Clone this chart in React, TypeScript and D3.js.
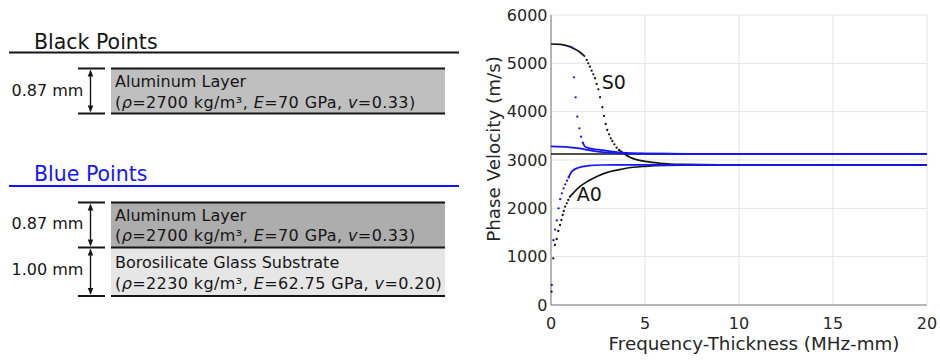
import React from "react";
import * as d3 from "d3";

// ---------- DATA ----------
// x: frequency-thickness (MHz-mm), y: phase velocity (m/s)
const xTicks = [0, 5, 10, 15, 20];
const yTicks = [0, 1000, 2000, 3000, 4000, 5000, 6000];

// Black points (aluminum plate, 0.87 mm)
const blackS0Line: [number, number][] = [
  [0, 5400], [0.5, 5394], [1.0, 5345], [1.13, 5324], [1.54, 5229], [1.81, 5138],
];
const blackS0Dots: [number, number][] = [
  [1.9, 5069], [1.98, 5001], [2.07, 4931], [2.16, 4848], [2.25, 4773], [2.34, 4691],
  [2.43, 4573], [2.52, 4463], [2.61, 4298], [2.73, 4091], [2.82, 3911], [2.91, 3745],
  [2.99, 3621], [3.09, 3532], [3.18, 3449], [3.26, 3393], [3.37, 3325], [3.49, 3255],
  [3.62, 3207],
];
const blackS0Tail: [number, number][] = [
  [3.62, 3207], [4.2, 3056], [5.09, 2965], [5.8, 2932], [7, 2910], [9, 2902], [20, 2900],
];
const blackSH0Line: [number, number][] = [[0, 3124], [20, 3124]];
const blackA0Dots: [number, number][] = [
  [0.03, 276], [0.12, 966], [0.21, 1241], [0.3, 1366], [0.39, 1531], [0.48, 1655],
  [0.55, 1759], [0.62, 1862], [0.68, 1945], [0.75, 2034], [0.84, 2104], [0.92, 2173],
  [1.01, 2241],
];
const blackA0Line: [number, number][] = [
  [1.01, 2241], [1.5, 2440], [2.0, 2570], [2.5, 2670], [3.0, 2745], [3.5, 2790],
  [4, 2830], [5, 2870], [6, 2890], [8, 2900], [20, 2900],
];

// Blue points (aluminum layer on borosilicate glass)
const blueA0Dots: [number, number][] = [
  [0.04, 414], [0.13, 1340], [0.22, 1560], [0.31, 1750], [0.4, 2000], [0.49, 2190],
  [0.58, 2310], [0.67, 2414], [0.76, 2497], [0.85, 2572], [0.94, 2640],
];
const blueA0Line: [number, number][] = [
  [0.94, 2640], [1.1, 2760], [1.45, 2840], [2.0, 2882], [2.7, 2897], [4, 2900], [20, 2900],
];
const blueUpperLine: [number, number][] = [
  [0, 3280], [1, 3262], [1.5, 3240], [2, 3205], [2.5, 3175], [3, 3155], [3.5, 3143],
  [4, 3137], [5, 3130], [8, 3126], [20, 3125],
];
const blueSteepDots: [number, number][] = [
  [1.13, 5324], [1.22, 4711], [1.31, 4297], [1.4, 3896], [1.51, 3656], [1.6, 3483],
  [1.69, 3358],
];
const blueSteepLine: [number, number][] = [
  [1.69, 3358], [1.81, 3275], [2.0, 3245], [2.5, 3215], [3, 3190], [3.5, 3165],
  [4, 3148], [5, 3135], [6, 3130], [8, 3127], [20, 3126],
];

const blackLines = [blackS0Line, blackS0Tail, blackSH0Line, blackA0Line];
const blackDots = [...blackS0Dots, ...blackA0Dots];
const blueLines = [blueUpperLine, blueSteepLine, blueA0Line];
const blueDots = [...blueSteepDots, ...blueA0Dots];

const modeLabels = [
  { text: "S0", fd: 2.7, v: 4469 },
  { text: "A0", fd: 1.37, v: 2145 },
];

const BLUE = "#1414ff";
const INK = "#151515";
const FONT = "DejaVu Sans, Verdana, sans-serif";

export default function App() {
  const x = d3.scaleLinear().domain([0, 20]).range([551, 927]);
  const y = d3.scaleLinear().domain([0, 6000]).range([305, 15]);
  const line = d3
    .line<[number, number]>()
    .x((d) => x(d[0]))
    .y((d) => y(d[1]))
    .curve(d3.curveMonotoneX);

  const matLine = (rho: string, E: string, nu: string) => (
    <>
      (<tspan fontStyle="italic">ρ</tspan>={rho} kg/m³, <tspan fontStyle="italic">E</tspan>={E} GPa,{" "}
      <tspan fontStyle="italic">v</tspan>={nu})
    </>
  );

  const dimBar = (yy: number, key: string) => (
    <line key={key} x1={78} x2={105} y1={yy} y2={yy} stroke={INK} strokeWidth={2} />
  );
  const dimArrow = (y1: number, y2: number, key: string) => (
    <g key={key}>
      <line x1={90.5} x2={90.5} y1={y1 + 2} y2={y2 - 2} stroke={INK} strokeWidth={1.4} />
      <path d={`M${90.5 - 2.8},${y1 + 8} L90.5,${y1 + 1.5} L${90.5 + 2.8},${y1 + 8} Z`} fill={INK} />
      <path d={`M${90.5 - 2.8},${y2 - 8} L90.5,${y2 - 1.5} L${90.5 + 2.8},${y2 - 8} Z`} fill={INK} />
    </g>
  );

  const paramStyle = { letterSpacing: "0.4px" } as React.CSSProperties;

  return (
    <svg
      width={940}
      height={360}
      style={{ position: "absolute", left: 0, top: 0, background: "#fff" }}
      fontFamily={FONT}
    >
      {/* ---------- Left: layer diagrams ---------- */}
      <text x={34} y={48.5} fontSize={20.5} fill={INK}>Black Points</text>
      <line x1={9} x2={459} y1={52.5} y2={52.5} stroke={INK} strokeWidth={2} />

      <rect x={111} y={68.5} width={334} height={45} fill="#bfbfbf" />
      <line x1={111} x2={445} y1={68.5} y2={68.5} stroke={INK} strokeWidth={2} />
      <line x1={111} x2={445} y1={113.5} y2={113.5} stroke={INK} strokeWidth={2} />
      <text x={115} y={87} fontSize={16} fill={INK}>Aluminum Layer</text>
      <text x={115} y={107.5} fontSize={16} fill={INK} style={paramStyle}>{matLine("2700", "70", "0.33")}</text>
      {dimBar(68.5, "b1")}
      {dimBar(113.5, "b2")}
      {dimArrow(68.5, 113.5, "a1")}
      <text x={11.5} y={96} fontSize={16} fill={INK}>0.87 mm</text>

      <text x={34} y={181} fontSize={20.5} fill={BLUE}>Blue Points</text>
      <line x1={9} x2={459} y1={186} y2={186} stroke={BLUE} strokeWidth={2} />

      <rect x={111} y={202.5} width={334} height={45} fill="#adadad" />
      <rect x={111} y={247.5} width={334} height={48.5} fill="#e6e6e6" />
      <line x1={111} x2={445} y1={202.5} y2={202.5} stroke={INK} strokeWidth={2} />
      <line x1={111} x2={445} y1={247.5} y2={247.5} stroke={INK} strokeWidth={2} />
      <line x1={111} x2={445} y1={296} y2={296} stroke={INK} strokeWidth={2} />
      <text x={115} y={220.5} fontSize={16} fill={INK}>Aluminum Layer</text>
      <text x={115} y={241} fontSize={16} fill={INK} style={paramStyle}>{matLine("2700", "70", "0.33")}</text>
      <text x={115} y={268} fontSize={16} fill={INK}>Borosilicate Glass Substrate</text>
      <text x={115} y={288.5} fontSize={16} fill={INK} style={paramStyle}>{matLine("2230", "62.75", "0.20")}</text>
      {dimBar(202.5, "b3")}
      {dimBar(247.5, "b4")}
      {dimBar(296, "b5")}
      {dimArrow(202.5, 247.5, "a2")}
      {dimArrow(247.5, 296, "a3")}
      <text x={11.5} y={228.5} fontSize={16} fill={INK}>0.87 mm</text>
      <text x={11.5} y={275} fontSize={16} fill={INK}>1.00 mm</text>

      {/* ---------- Right: dispersion chart ---------- */}
      <g>
        {xTicks.map((t) => (
          <line key={"gx" + t} x1={x(t)} x2={x(t)} y1={y(0)} y2={y(6000)} stroke="#e3e3e3" strokeWidth={1} />
        ))}
        {yTicks.map((t) => (
          <line key={"gy" + t} x1={x(0)} x2={x(20)} y1={y(t)} y2={y(t)} stroke="#e3e3e3" strokeWidth={1} />
        ))}
        <line x1={x(0)} x2={x(0)} y1={y(0)} y2={y(6000)} stroke="#7a7a7a" strokeWidth={1} />
        <line x1={x(0)} x2={x(20)} y1={y(0)} y2={y(0)} stroke="#7a7a7a" strokeWidth={1} />
        {yTicks.map((t) => (
          <text key={"ty" + t} x={547.5} y={y(t) + 5.5} fontSize={16} textAnchor="end" fill="#262626">
            {t}
          </text>
        ))}
        {xTicks.map((t) => (
          <text key={"tx" + t} x={x(t)} y={328.5} fontSize={16} textAnchor="middle" fill="#262626">
            {t}
          </text>
        ))}
        <text x={754} y={350} fontSize={18.3} textAnchor="middle" fill="#262626">
          Frequency-Thickness (MHz-mm)
        </text>
        <text
          transform={`translate(500,149) rotate(-90)`}
          fontSize={18.3}
          textAnchor="middle"
          fill="#262626"
        >
          Phase Velocity (m/s)
        </text>

        {blackLines.map((d, i) => (
          <path key={"bl" + i} d={line(d) || ""} fill="none" stroke={INK} strokeWidth={1.7} />
        ))}
        {blackDots.map((d, i) => (
          <circle key={"bd" + i} cx={x(d[0])} cy={y(d[1])} r={1.15} fill={INK} />
        ))}
        {blueLines.map((d, i) => (
          <path key={"ul" + i} d={line(d) || ""} fill="none" stroke={BLUE} strokeWidth={1.7} />
        ))}
        {blueDots.map((d, i) => (
          <circle key={"ud" + i} cx={x(d[0])} cy={y(d[1])} r={1.15} fill={BLUE} />
        ))}

        {modeLabels.map((m) => (
          <text key={m.text} x={x(m.fd)} y={y(m.v)} fontSize={19} fill={INK}>
            {m.text}
          </text>
        ))}
      </g>
    </svg>
  );
}
